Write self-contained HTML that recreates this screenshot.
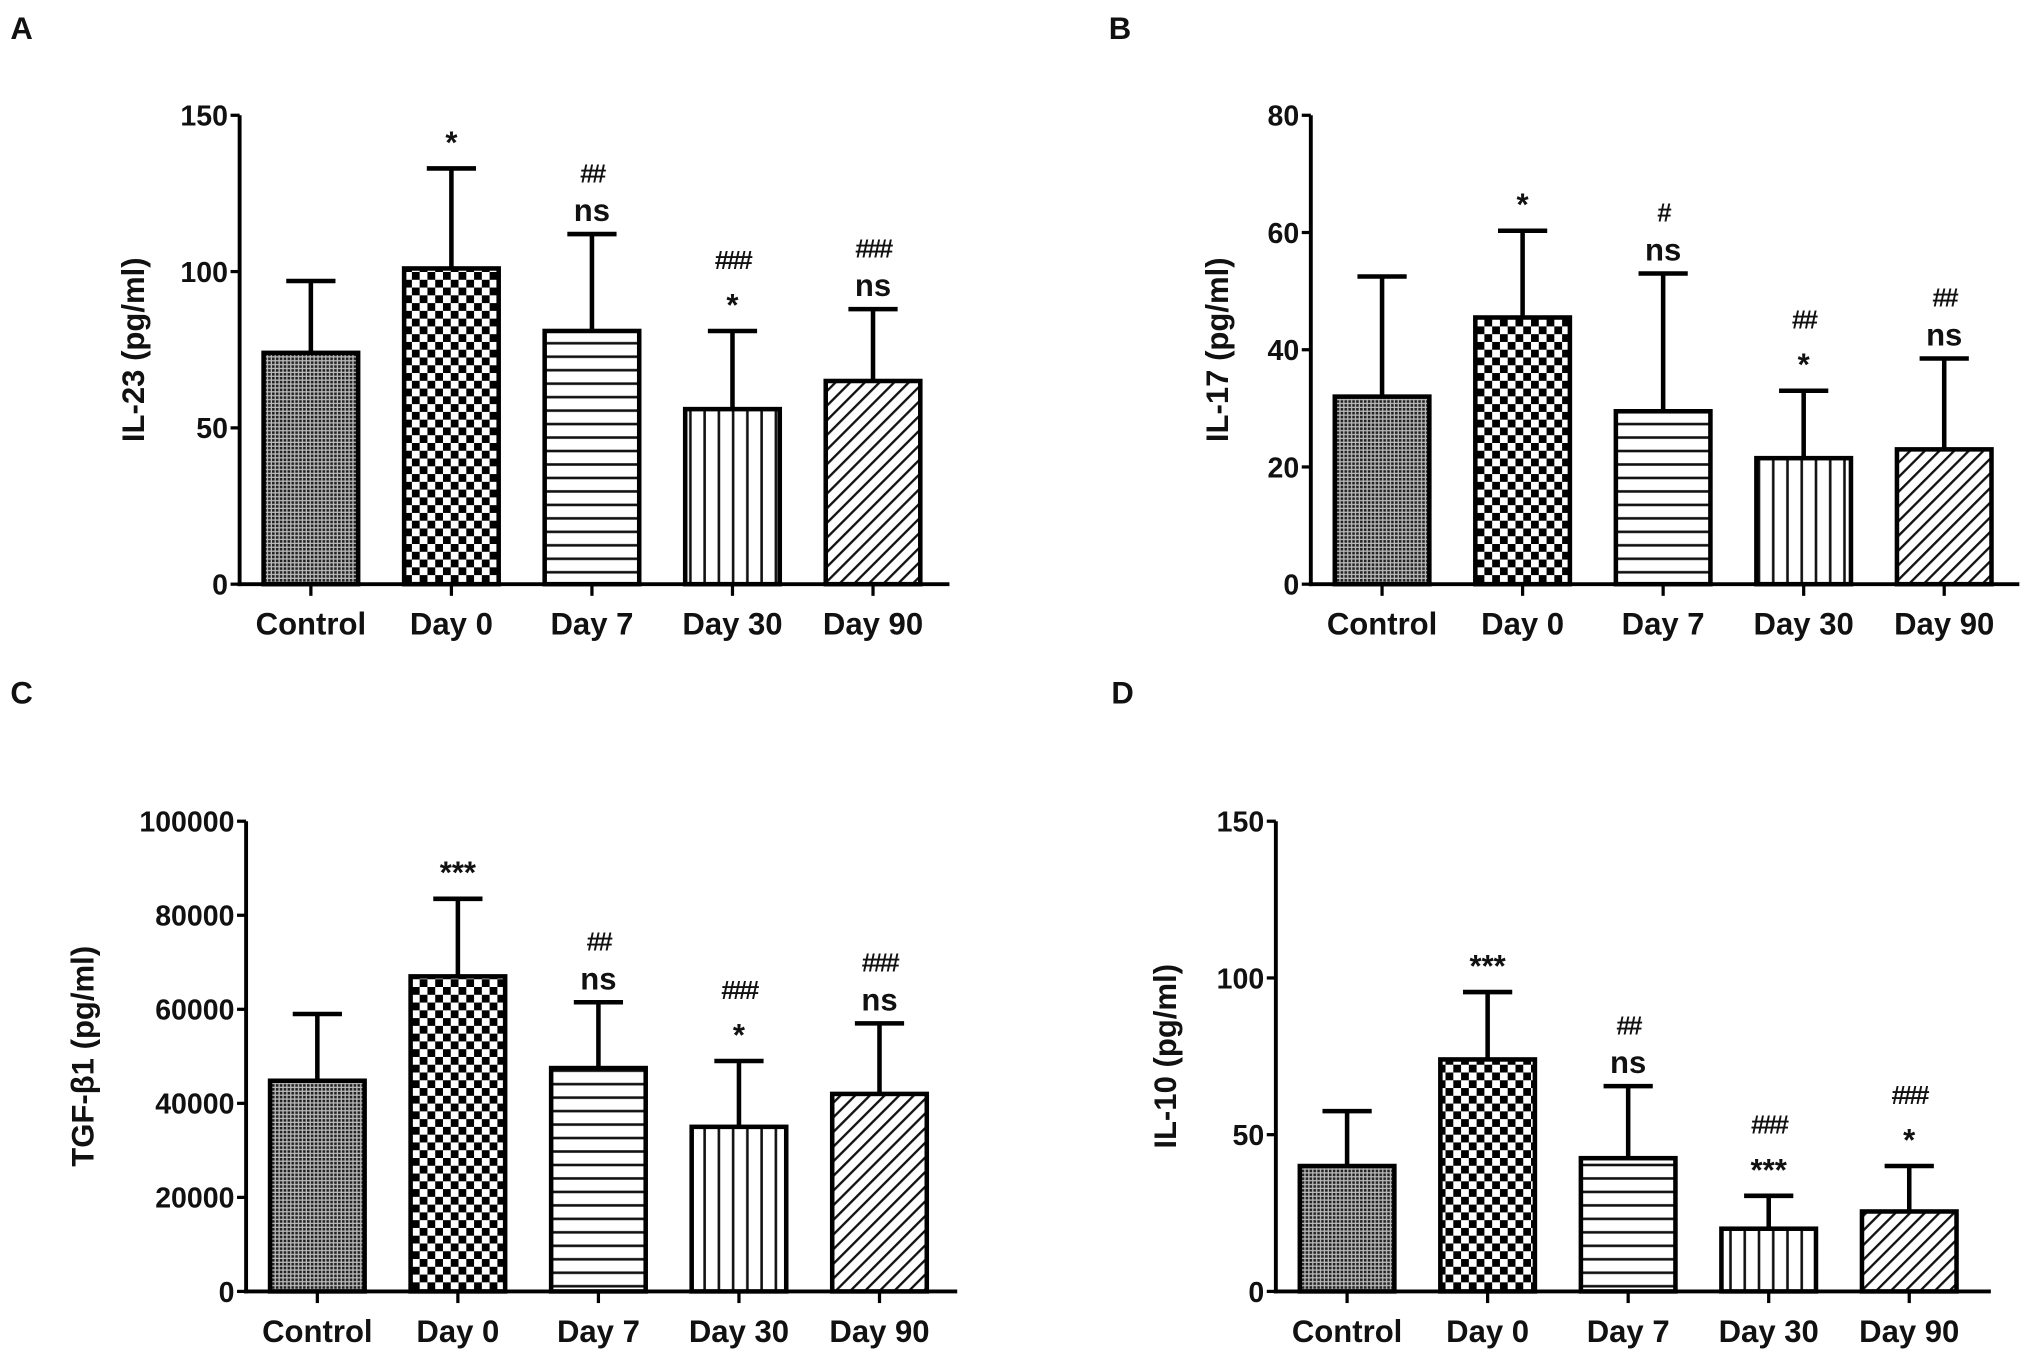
<!DOCTYPE html>
<html><head><meta charset="utf-8"><style>
html,body{margin:0;padding:0;background:#fff;}
svg{display:block;}
text{font-family:"Liberation Sans",Arial,sans-serif;font-weight:bold;fill:#111;}
</style></head>
<body>
<svg id="fig" width="2031" height="1362" viewBox="0 0 1568 1051.5" preserveAspectRatio="none" xmlns="http://www.w3.org/2000/svg">
<defs>
<pattern id="pCtrl" patternUnits="userSpaceOnUse" width="3" height="3"><rect width="3" height="3" fill="#bbb"/><rect width="2" height="2" fill="#222"/></pattern>
<pattern id="pDay0" patternUnits="userSpaceOnUse" width="12" height="12"><rect width="12" height="12" fill="#fff"/><rect width="6" height="6" fill="#000"/><rect x="6" y="6" width="6" height="6" fill="#000"/></pattern>
<pattern id="pDay7" patternUnits="userSpaceOnUse" width="10" height="10.4"><rect width="10" height="10.4" fill="#fff"/><rect y="4" width="10" height="2" fill="#111"/></pattern>
<pattern id="pDay30" patternUnits="userSpaceOnUse" width="11" height="10"><rect width="11" height="10" fill="#fff"/><rect x="4" width="2" height="10" fill="#111"/></pattern>
<pattern id="pDay90" patternUnits="userSpaceOnUse" width="8" height="8" patternTransform="rotate(45)"><rect width="8" height="8" fill="#fff"/><rect width="1.8" height="8" fill="#111"/></pattern>
</defs>
</svg>
<script>
const categories = ["Control","Day 0","Day 7","Day 30","Day 90"];
const aValues = [74, 101, 81, 56, 65];
const aErrors = [97, 133, 112, 81, 88];
const aTicks = [0, 50, 100, 150];
const aMarks = [[], ["*"], ["##","ns"], ["###","*"], ["###","ns"]];
const bValues = [32, 45.5, 29.5, 21.5, 23];
const bErrors = [52.5, 60.3, 53, 33, 38.5];
const bTicks = [0, 20, 40, 60, 80];
const bMarks = [[], ["*"], ["#","ns"], ["##","*"], ["##","ns"]];
const cValues = [44800, 67000, 47500, 35000, 42000];
const cErrors = [59000, 83500, 61500, 49000, 57000];
const cTicks = [0, 20000, 40000, 60000, 80000, 100000];
const cMarks = [[], ["***"], ["##","ns"], ["###","*"], ["###","ns"]];
const dValues = [40, 74, 42.5, 20, 25.5];
const dErrors = [57.5, 95.5, 65.5, 30.5, 40];
const dTicks = [0, 50, 100, 150];
const dMarks = [[], ["***"], ["##","ns"], ["###","***"], ["###","*"]];

const NS = "http://www.w3.org/2000/svg";
const svg = document.getElementById("fig");
const fills = ["url(#pCtrl)","url(#pDay0)","url(#pDay7)","url(#pDay30)","url(#pDay90)"];
function mk(tag, attrs, parent){
  const e = document.createElementNS(NS, tag);
  for (const k in attrs) e.setAttribute(k, attrs[k]);
  (parent||svg).appendChild(e);
  return e;
}
function panel(cfg, values, errors, ticks, marks){
  const g = mk("g", {});
  
  
  const ymax = ticks[ticks.length-1];
  const y = v => cfg.y0 - (v/ymax)*(cfg.y0-cfg.yTop);
  const xc = i => cfg.x0 + 55 + 108.5*i;
  const bw = 73;
  const lt = mk("text", {x: cfg.lx, y: cfg.ly, "font-size": 24}, g);
  lt.textContent = cfg.letter;
  
  
  const ya = mk("line", {x1: cfg.x0, y1: cfg.yTop, x2: cfg.x0, y2: cfg.y0+1.5, stroke:"#000","stroke-width":3}, g);
  
  
  const xa = mk("line", {x1: cfg.x0-1.5, y1: cfg.y0, x2: cfg.xEnd, y2: cfg.y0, stroke:"#000","stroke-width":3}, g);
  
  
  ticks.forEach(t => {
    mk("line", {x1: cfg.x0-7, y1: y(t), x2: cfg.x0, y2: y(t), stroke:"#000","stroke-width":2.5}, g);
    const tl = mk("text", {x: cfg.x0-9, y: y(t)+8, "font-size": 22, "text-anchor":"end"}, g);
    tl.textContent = String(t);
    
    
  });
  const at = mk("text", {x: 0, y: 0, "font-size": 24, "text-anchor":"middle", transform:`translate(${cfg.titleX},${(cfg.yTop+cfg.y0)/2}) rotate(-90)`}, g);
  at.textContent = cfg.title;
  
  
  categories.forEach((c, i) => {
    const cx = xc(i);
    const eb = mk("path", {d:`M${cx},${y(values[i])} V${y(errors[i])} M${cx-19},${y(errors[i])} H${cx+19}`, stroke:"#000","stroke-width":3.5, fill:"none"}, g);
    
    
    const r = mk("rect", {x: cx-bw/2, y: y(values[i]), width: bw, height: cfg.y0-y(values[i]), fill: fills[i], stroke:"#000","stroke-width":3.5}, g);
    
    
    mk("line", {x1: cx, y1: cfg.y0, x2: cx, y2: cfg.y0+9, stroke:"#000","stroke-width":2.5}, g);
    const cl = mk("text", {x: cx, y: cfg.y0+39, "font-size": 24, "text-anchor":"middle"}, g);
    cl.textContent = c;
    
    
    const m = marks[i];
    let yy = y(errors[i]);
    for (let k = m.length-1; k >= 0; k--){
      const s = m[k];
      const isHash = s[0] === "#";
      const isStar = s[0] === "*";
      let base;
      if (isStar) { base = yy - 12; }
      else if (isHash) { base = yy - 8; }
      else { base = yy - 10; }
      const txt = mk("text", {x: cx, y: base, "font-size": isHash ? 20 : 24, "text-anchor":"middle", "letter-spacing": isHash ? -2 : 0}, g);
      txt.textContent = s;
      
      
      yy = base - (isStar ? 28 : 22);
    }
  });
}
panel({name:"panel-a-il23", letter:"A", lx:8, ly:30, x0:185, xEnd:733, yTop:89, y0:451, title:"IL-23 (pg/ml)", titleX:111}, aValues, aErrors, aTicks, aMarks);
panel({name:"panel-b-il17", letter:"B", lx:856, ly:30, x0:1012, xEnd:1559, yTop:89, y0:451, title:"IL-17 (pg/ml)", titleX:948}, bValues, bErrors, bTicks, bMarks);
panel({name:"panel-c-tgfb1", letter:"C", lx:8, ly:543, x0:190, xEnd:739, yTop:634, y0:997, title:"TGF-β1 (pg/ml)", titleX:72}, cValues, cErrors, cTicks, cMarks);
panel({name:"panel-d-il10", letter:"D", lx:858, ly:543, x0:985, xEnd:1537, yTop:634, y0:997, title:"IL-10 (pg/ml)", titleX:908}, dValues, dErrors, dTicks, dMarks);
</script>
</body></html>
